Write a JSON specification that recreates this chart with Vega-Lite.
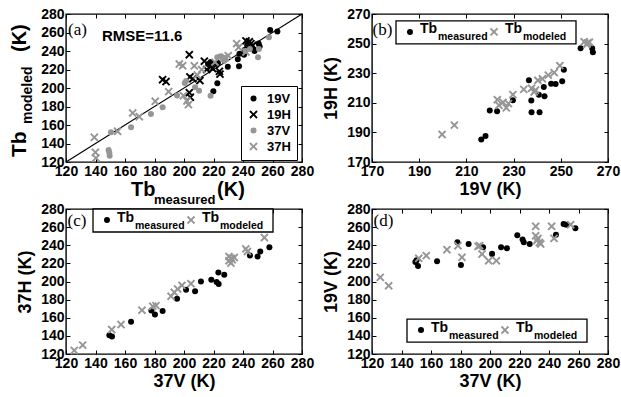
{
  "$schema": "https://vega.github.io/schema/vega-lite/v6.json",
  "background": "#ffffff",
  "padding": {"left": 8, "top": 6, "right": 4, "bottom": 4},
  "datasets": {
    "one": [{}],
    "a": [
      {"band": "19V", "measured": 216.3, "modeled": 226}, {"band": "19V", "measured": 218.1, "modeled": 228},
      {"band": "19V", "measured": 219.9, "modeled": 196.4}, {"band": "19V", "measured": 222.6, "modeled": 205.1},
      {"band": "19V", "measured": 223, "modeled": 227}, {"band": "19V", "measured": 229.7, "modeled": 223},
      {"band": "19V", "measured": 236.5, "modeled": 231}, {"band": "19V", "measured": 237.3, "modeled": 223.5},
      {"band": "19V", "measured": 237.6, "modeled": 237}, {"band": "19V", "measured": 240.7, "modeled": 236},
      {"band": "19V", "measured": 241, "modeled": 241}, {"band": "19V", "measured": 242.8, "modeled": 246},
      {"band": "19V", "measured": 243.1, "modeled": 250}, {"band": "19V", "measured": 245.9, "modeled": 243},
      {"band": "19V", "measured": 247.8, "modeled": 240}, {"band": "19V", "measured": 250.6, "modeled": 248},
      {"band": "19V", "measured": 251.3, "modeled": 245}, {"band": "19V", "measured": 258.4, "modeled": 262.7},
      {"band": "19V", "measured": 263.3, "modeled": 261},
      {"band": "19H", "measured": 185.5, "modeled": 209}, {"band": "19H", "measured": 187.8, "modeled": 207},
      {"band": "19H", "measured": 203.6, "modeled": 236}, {"band": "19H", "measured": 204, "modeled": 212},
      {"band": "19H", "measured": 206, "modeled": 210}, {"band": "19H", "measured": 203.6, "modeled": 195},
      {"band": "19H", "measured": 204.3, "modeled": 190}, {"band": "19H", "measured": 210.8, "modeled": 208},
      {"band": "19H", "measured": 213.8, "modeled": 229}, {"band": "19H", "measured": 215.4, "modeled": 220},
      {"band": "19H", "measured": 218.3, "modeled": 223}, {"band": "19H", "measured": 219.4, "modeled": 221},
      {"band": "19H", "measured": 221, "modeled": 226}, {"band": "19H", "measured": 224, "modeled": 218},
      {"band": "19H", "measured": 224.4, "modeled": 215}, {"band": "19H", "measured": 242, "modeled": 251},
      {"band": "19H", "measured": 244.3, "modeled": 250}, {"band": "19H", "measured": 245.4, "modeled": 248},
      {"band": "19H", "measured": 246.6, "modeled": 246},
      {"band": "37V", "measured": 148.9, "modeled": 132.9}, {"band": "37V", "measured": 149.4, "modeled": 130},
      {"band": "37V", "measured": 149.6, "modeled": 126.7}, {"band": "37V", "measured": 150.5, "modeled": 152.1},
      {"band": "37V", "measured": 164.1, "modeled": 157.5}, {"band": "37V", "measured": 177.6, "modeled": 171.9},
      {"band": "37V", "measured": 185.5, "modeled": 179.1}, {"band": "37V", "measured": 195.3, "modeled": 192},
      {"band": "37V", "measured": 200.5, "modeled": 205.5}, {"band": "37V", "measured": 201.4, "modeled": 207.5},
      {"band": "37V", "measured": 207.5, "modeled": 200.9}, {"band": "37V", "measured": 210.2, "modeled": 197.1},
      {"band": "37V", "measured": 218, "modeled": 191.7}, {"band": "37V", "measured": 222.6, "modeled": 233.2},
      {"band": "37V", "measured": 224.8, "modeled": 234.3}, {"band": "37V", "measured": 226.5, "modeled": 231},
      {"band": "37V", "measured": 228, "modeled": 232.5}, {"band": "37V", "measured": 227.3, "modeled": 229.5},
      {"band": "37V", "measured": 241.7, "modeled": 240}, {"band": "37V", "measured": 244.7, "modeled": 242.2},
      {"band": "37V", "measured": 250.2, "modeled": 233.2}, {"band": "37V", "measured": 250.8, "modeled": 242.2},
      {"band": "37V", "measured": 257.6, "modeled": 254.8},
      {"band": "37H", "measured": 139.2, "modeled": 146.7}, {"band": "37H", "measured": 139.9, "modeled": 130.5},
      {"band": "37H", "measured": 140.3, "modeled": 124.3}, {"band": "37H", "measured": 155, "modeled": 153.2},
      {"band": "37H", "measured": 165.2, "modeled": 173}, {"band": "37H", "measured": 169.7, "modeled": 169},
      {"band": "37H", "measured": 180.5, "modeled": 185.6}, {"band": "37H", "measured": 189.6, "modeled": 196.1},
      {"band": "37H", "measured": 196.8, "modeled": 225.9}, {"band": "37H", "measured": 199.1, "modeled": 224.1},
      {"band": "37H", "measured": 199.6, "modeled": 191.7}, {"band": "37H", "measured": 202, "modeled": 186},
      {"band": "37H", "measured": 203, "modeled": 182}, {"band": "37H", "measured": 207, "modeled": 224},
      {"band": "37H", "measured": 209, "modeled": 214}, {"band": "37H", "measured": 212, "modeled": 220},
      {"band": "37H", "measured": 221, "modeled": 228}, {"band": "37H", "measured": 228, "modeled": 233},
      {"band": "37H", "measured": 230, "modeled": 235}, {"band": "37H", "measured": 235.7, "modeled": 248},
      {"band": "37H", "measured": 237, "modeled": 244}, {"band": "37H", "measured": 242, "modeled": 239}
    ],
    "b": [
      {"kind": "measured", "v19": 216.3, "h19": 185.2}, {"kind": "measured", "v19": 218.1, "h19": 187.5},
      {"kind": "measured", "v19": 219.9, "h19": 204.8}, {"kind": "measured", "v19": 223, "h19": 204.3},
      {"kind": "measured", "v19": 229.7, "h19": 211.7}, {"kind": "measured", "v19": 236.5, "h19": 225.2},
      {"kind": "measured", "v19": 237.5, "h19": 211.5}, {"kind": "measured", "v19": 237.6, "h19": 203.6},
      {"kind": "measured", "v19": 241, "h19": 203.6}, {"kind": "measured", "v19": 240.7, "h19": 215.5},
      {"kind": "measured", "v19": 242.8, "h19": 220.7}, {"kind": "measured", "v19": 243.1, "h19": 214.4},
      {"kind": "measured", "v19": 245.9, "h19": 222.9}, {"kind": "measured", "v19": 247.8, "h19": 222.7},
      {"kind": "measured", "v19": 250.6, "h19": 224.5}, {"kind": "measured", "v19": 251.3, "h19": 232.3},
      {"kind": "measured", "v19": 258.4, "h19": 246.9}, {"kind": "measured", "v19": 263.3, "h19": 246.9},
      {"kind": "measured", "v19": 263.6, "h19": 244.2},
      {"kind": "modeled", "v19": 199.7, "h19": 188.6}, {"kind": "modeled", "v19": 204.9, "h19": 194.9},
      {"kind": "modeled", "v19": 223.1, "h19": 212.1}, {"kind": "modeled", "v19": 223.8, "h19": 208.3},
      {"kind": "modeled", "v19": 225.5, "h19": 210.3}, {"kind": "modeled", "v19": 226.9, "h19": 206.6},
      {"kind": "modeled", "v19": 227.8, "h19": 209.5}, {"kind": "modeled", "v19": 229.7, "h19": 215.5},
      {"kind": "modeled", "v19": 234.3, "h19": 219.1}, {"kind": "modeled", "v19": 237.6, "h19": 219.8},
      {"kind": "modeled", "v19": 238.7, "h19": 217.3}, {"kind": "modeled", "v19": 239.3, "h19": 218.6},
      {"kind": "modeled", "v19": 240.3, "h19": 225.2}, {"kind": "modeled", "v19": 242.2, "h19": 226.2},
      {"kind": "modeled", "v19": 244.7, "h19": 228.7}, {"kind": "modeled", "v19": 247.2, "h19": 230.4},
      {"kind": "modeled", "v19": 249.6, "h19": 235.1}, {"kind": "modeled", "v19": 259.9, "h19": 251.2},
      {"kind": "modeled", "v19": 261.3, "h19": 250.4}, {"kind": "modeled", "v19": 262.1, "h19": 250.9},
      {"kind": "modeled", "v19": 261, "h19": 249.4}
    ],
    "c": [
      {"kind": "measured", "v37": 149.4, "h37": 140.8}, {"kind": "measured", "v37": 151.2, "h37": 139.3},
      {"kind": "measured", "v37": 164.1, "h37": 155.5}, {"kind": "measured", "v37": 177.9, "h37": 168},
      {"kind": "measured", "v37": 180.3, "h37": 163.5}, {"kind": "measured", "v37": 185.5, "h37": 167.5},
      {"kind": "measured", "v37": 195.3, "h37": 181.1}, {"kind": "measured", "v37": 201.4, "h37": 191},
      {"kind": "measured", "v37": 207.5, "h37": 189.2}, {"kind": "measured", "v37": 211.5, "h37": 200.1},
      {"kind": "measured", "v37": 218.5, "h37": 202}, {"kind": "measured", "v37": 222.1, "h37": 199.4},
      {"kind": "measured", "v37": 223.5, "h37": 197.2}, {"kind": "measured", "v37": 223.3, "h37": 210},
      {"kind": "measured", "v37": 227.3, "h37": 207.5}, {"kind": "measured", "v37": 244.7, "h37": 228.7},
      {"kind": "measured", "v37": 249.9, "h37": 227.6}, {"kind": "measured", "v37": 251.7, "h37": 233.1},
      {"kind": "measured", "v37": 257.9, "h37": 237.9},
      {"kind": "modeled", "v37": 125.6, "h37": 124}, {"kind": "modeled", "v37": 131.3, "h37": 129.8},
      {"kind": "modeled", "v37": 151, "h37": 147}, {"kind": "modeled", "v37": 157.3, "h37": 152.5},
      {"kind": "modeled", "v37": 171.5, "h37": 168.3}, {"kind": "modeled", "v37": 178.8, "h37": 172.7},
      {"kind": "modeled", "v37": 181, "h37": 173.4}, {"kind": "modeled", "v37": 191.2, "h37": 183.7},
      {"kind": "modeled", "v37": 193.4, "h37": 188.1}, {"kind": "modeled", "v37": 195.7, "h37": 191.7},
      {"kind": "modeled", "v37": 198.6, "h37": 195.7}, {"kind": "modeled", "v37": 204.7, "h37": 197.6},
      {"kind": "modeled", "v37": 230.5, "h37": 227.6}, {"kind": "modeled", "v37": 232, "h37": 225.8},
      {"kind": "modeled", "v37": 232.7, "h37": 224}, {"kind": "modeled", "v37": 230.5, "h37": 222.9},
      {"kind": "modeled", "v37": 234.1, "h37": 226.5}, {"kind": "modeled", "v37": 231.8, "h37": 220.3},
      {"kind": "modeled", "v37": 241.9, "h37": 236}, {"kind": "modeled", "v37": 243, "h37": 233.1},
      {"kind": "modeled", "v37": 254.5, "h37": 248.5}
    ],
    "d": [
      {"kind": "measured", "v37": 149.4, "v19": 221.5}, {"kind": "measured", "v37": 150.2, "v19": 223.5},
      {"kind": "measured", "v37": 151.2, "v19": 217.2}, {"kind": "measured", "v37": 164.1, "v19": 222.3},
      {"kind": "measured", "v37": 177.9, "v19": 243.3}, {"kind": "measured", "v37": 180.3, "v19": 218.3},
      {"kind": "measured", "v37": 185.5, "v19": 241.5}, {"kind": "measured", "v37": 195.3, "v19": 237.8},
      {"kind": "measured", "v37": 201.4, "v19": 230.5}, {"kind": "measured", "v37": 207.5, "v19": 237.8},
      {"kind": "measured", "v37": 211.5, "v19": 236.7}, {"kind": "measured", "v37": 218.5, "v19": 251},
      {"kind": "measured", "v37": 222.1, "v19": 246.3}, {"kind": "measured", "v37": 222.9, "v19": 243.3},
      {"kind": "measured", "v37": 226.9, "v19": 241.5}, {"kind": "measured", "v37": 244.7, "v19": 251.6},
      {"kind": "measured", "v37": 249.9, "v19": 263.4}, {"kind": "measured", "v37": 251.7, "v19": 262.7},
      {"kind": "measured", "v37": 257.9, "v19": 258.7},
      {"kind": "modeled", "v37": 125.6, "v19": 204.6}, {"kind": "modeled", "v37": 131.3, "v19": 195.3},
      {"kind": "modeled", "v37": 151.7, "v19": 225.6}, {"kind": "modeled", "v37": 156.8, "v19": 228.5},
      {"kind": "modeled", "v37": 170.8, "v19": 235.1}, {"kind": "modeled", "v37": 178.3, "v19": 239.5},
      {"kind": "modeled", "v37": 181, "v19": 226.7}, {"kind": "modeled", "v37": 191.9, "v19": 238.8},
      {"kind": "modeled", "v37": 193, "v19": 239.5}, {"kind": "modeled", "v37": 194.6, "v19": 230.3},
      {"kind": "modeled", "v37": 199.1, "v19": 222.9}, {"kind": "modeled", "v37": 204.3, "v19": 222.9},
      {"kind": "modeled", "v37": 231, "v19": 260.9}, {"kind": "modeled", "v37": 231, "v19": 250.5},
      {"kind": "modeled", "v37": 231.7, "v19": 245}, {"kind": "modeled", "v37": 233.5, "v19": 243},
      {"kind": "modeled", "v37": 234.4, "v19": 241.4}, {"kind": "modeled", "v37": 232.5, "v19": 247.5},
      {"kind": "modeled", "v37": 241.8, "v19": 260.9}, {"kind": "modeled", "v37": 243.4, "v19": 247.6},
      {"kind": "modeled", "v37": 254.7, "v19": 262.7}
    ]
  },
  "columns": 2,
  "spacing": {"row": 47, "column": 70},
  "bounds": "flush",
  "resolve": {"scale": {"color": "independent", "shape": "independent"}, "legend": {"color": "independent", "shape": "independent"}},
  "concat": [
    {
      "width": 236, "height": 148,
      "resolve": {"axis": {"x": "independent", "y": "independent"}},
      "layer": [
        {
          "data": {"name": "one"},
          "mark": {"type": "rule", "color": "#000", "strokeWidth": 1.2},
          "encoding": {
            "x": {"datum": 120, "type": "quantitative", "axis": {"orient": "top", "labels": false, "title": null, "values": [120, 140, 160, 180, 200, 220, 240, 260, 280]}},
            "y": {"datum": 120, "type": "quantitative", "axis": {"orient": "right", "labels": false, "title": null, "values": [120, 140, 160, 180, 200, 220, 240, 260, 280]}},
            "x2": {"datum": 280},
            "y2": {"datum": 280}
          }
        },
        {
          "data": {"name": "a"},
          "mark": {"type": "point", "filled": true, "opacity": 1, "size": 36, "strokeWidth": 0},
          "encoding": {
            "x": {"field": "measured", "type": "quantitative", "scale": {"domain": [120, 280], "nice": false, "zero": false}, "axis": {"title": null, "values": [120, 140, 160, 180, 200, 220, 240, 260, 280]}},
            "y": {"field": "modeled", "type": "quantitative", "scale": {"domain": [120, 280], "nice": false, "zero": false}, "axis": {"title": null, "values": [120, 140, 160, 180, 200, 220, 240, 260, 280]}},
            "color": {"field": "band", "type": "nominal", "scale": {"domain": ["19V", "19H", "37V", "37H"], "range": ["#000000", "#000000", "#969696", "#969696"]}, "legend": {"title": null, "orient": "none", "legendX": 175, "legendY": 72}},
            "shape": {"field": "band", "type": "nominal", "scale": {"domain": ["19V", "19H", "37V", "37H"], "range": ["circle", "M0,-0.45L0.95,-1.4L1.4,-0.95L0.45,0L1.4,0.95L0.95,1.4L0,0.45L-0.95,1.4L-1.4,0.95L-0.45,0L-1.4,-0.95L-0.95,-1.4Z", "circle", "M0,-0.45L0.95,-1.4L1.4,-0.95L0.45,0L1.4,0.95L0.95,1.4L0,0.45L-0.95,1.4L-1.4,0.95L-0.45,0L-1.4,-0.95L-0.95,-1.4Z"]}, "legend": {"title": null, "orient": "none", "legendX": 175, "legendY": 72}}
          }
        },
        {
          "data": {"name": "one"},
          "mark": {"type": "text", "text": "RMSE=11.6", "align": "left", "baseline": "alphabetic", "fontSize": 15},
          "encoding": {"x": {"datum": 144.4, "type": "quantitative", "axis": null}, "y": {"datum": 250.3, "type": "quantitative", "axis": null}}
        },
        {
          "data": {"name": "one"},
          "mark": {"type": "text", "text": "(a)", "align": "left", "baseline": "alphabetic", "font": "Liberation Serif", "fontWeight": "normal", "fontSize": 17},
          "encoding": {"x": {"datum": 121.4, "type": "quantitative", "axis": null}, "y": {"datum": 257.3, "type": "quantitative", "axis": null}}
        },
        {
          "data": {"name": "one"},
          "mark": {"type": "text", "text": "Tb", "align": "left", "baseline": "alphabetic", "fontSize": 20},
          "encoding": {"x": {"datum": 164.1, "type": "quantitative", "axis": null}, "y": {"datum": 83.2, "type": "quantitative", "axis": null}}
        },
        {
          "data": {"name": "one"},
          "mark": {"type": "text", "text": "measured", "align": "left", "baseline": "alphabetic", "fontSize": 13},
          "encoding": {"x": {"datum": 179.7, "type": "quantitative", "axis": null}, "y": {"datum": 74.6, "type": "quantitative", "axis": null}}
        },
        {
          "data": {"name": "one"},
          "mark": {"type": "text", "text": "(K)", "align": "left", "baseline": "alphabetic", "fontSize": 20},
          "encoding": {"x": {"datum": 222.4, "type": "quantitative", "axis": null}, "y": {"datum": 83.2, "type": "quantitative", "axis": null}}
        },
        {
          "data": {"name": "one"},
          "mark": {"type": "text", "text": "Tb", "align": "left", "baseline": "alphabetic", "fontSize": 21, "angle": 270},
          "encoding": {"x": {"datum": 92.9, "type": "quantitative", "axis": null}, "y": {"datum": 125.4, "type": "quantitative", "axis": null}}
        },
        {
          "data": {"name": "one"},
          "mark": {"type": "text", "text": "modeled", "align": "left", "baseline": "alphabetic", "fontSize": 14, "angle": 270},
          "encoding": {"x": {"datum": 97.0, "type": "quantitative", "axis": null}, "y": {"datum": 161.1, "type": "quantitative", "axis": null}}
        },
        {
          "data": {"name": "one"},
          "mark": {"type": "text", "text": "(K)", "align": "left", "baseline": "alphabetic", "fontSize": 20, "angle": 270},
          "encoding": {"x": {"datum": 92.9, "type": "quantitative", "axis": null}, "y": {"datum": 238.9, "type": "quantitative", "axis": null}}
        }
      ]
    },
    {
      "width": 236, "height": 148,
      "resolve": {"axis": {"x": "independent", "y": "independent"}},
      "layer": [
        {
          "data": {"name": "b"},
          "mark": {"type": "point", "filled": true, "opacity": 1, "size": 36, "strokeWidth": 0},
          "encoding": {
            "x": {"field": "v19", "type": "quantitative", "scale": {"domain": [170, 270], "nice": false, "zero": false}, "axis": {"title": "19V (K)", "values": [170, 190, 210, 230, 250, 270]}},
            "y": {"field": "h19", "type": "quantitative", "scale": {"domain": [170, 270], "nice": false, "zero": false}, "axis": {"title": "19H (K)", "values": [170, 190, 210, 230, 250, 270]}},
            "color": {"field": "kind", "type": "nominal", "scale": {"domain": ["measured", "modeled"], "range": ["#000000", "#969696"]}, "legend": null},
            "shape": {"field": "kind", "type": "nominal", "scale": {"domain": ["measured", "modeled"], "range": ["circle", "M0,-0.45L0.95,-1.4L1.4,-0.95L0.45,0L1.4,0.95L0.95,1.4L0,0.45L-0.95,1.4L-1.4,0.95L-0.45,0L-1.4,-0.95L-0.95,-1.4Z"]}, "legend": null}
          }
        },
        {
          "data": {"name": "one"},
          "mark": {"type": "rect", "fill": "#ffffff", "stroke": "#000000", "strokeWidth": 1.3},
          "encoding": {
            "x": {"datum": 180.17, "type": "quantitative", "axis": {"orient": "top", "labels": false, "title": null, "values": [170, 190, 210, 230, 250, 270]}},
            "x2": {"datum": 256.44},
            "y": {"datum": 265.3, "type": "quantitative", "axis": {"orient": "right", "labels": false, "title": null, "values": [170, 190, 210, 230, 250, 270]}},
            "y2": {"datum": 249.87}
          }
        },
        {
          "data": {"name": "one"},
          "mark": {"type": "point", "shape": "circle", "filled": true, "color": "#000000", "opacity": 1, "size": 36, "strokeWidth": 0},
          "encoding": {"x": {"datum": 186.1, "type": "quantitative", "axis": null}, "y": {"datum": 257.92, "type": "quantitative", "axis": null}}
        },
        {
          "data": {"name": "one"},
          "mark": {"type": "point", "shape": "M0,-0.45L0.95,-1.4L1.4,-0.95L0.45,0L1.4,0.95L0.95,1.4L0,0.45L-0.95,1.4L-1.4,0.95L-0.45,0L-1.4,-0.95L-0.95,-1.4Z", "filled": true, "color": "#969696", "opacity": 1, "size": 36, "strokeWidth": 0},
          "encoding": {"x": {"datum": 221.69, "type": "quantitative", "axis": null}, "y": {"datum": 257.92, "type": "quantitative", "axis": null}}
        },
        {
          "data": {"name": "one"},
          "mark": {"type": "text", "text": "Tb", "align": "left", "baseline": "alphabetic", "fontSize": 14},
          "encoding": {"x": {"datum": 190.34, "type": "quantitative", "axis": null}, "y": {"datum": 256.91, "type": "quantitative", "axis": null}}
        },
        {
          "data": {"name": "one"},
          "mark": {"type": "text", "text": "measured", "align": "left", "baseline": "alphabetic", "fontSize": 10.5},
          "encoding": {"x": {"datum": 197.97, "type": "quantitative", "axis": null}, "y": {"datum": 252.21, "type": "quantitative", "axis": null}}
        },
        {
          "data": {"name": "one"},
          "mark": {"type": "text", "text": "Tb", "align": "left", "baseline": "alphabetic", "fontSize": 14},
          "encoding": {"x": {"datum": 226.36, "type": "quantitative", "axis": null}, "y": {"datum": 256.91, "type": "quantitative", "axis": null}}
        },
        {
          "data": {"name": "one"},
          "mark": {"type": "text", "text": "modeled", "align": "left", "baseline": "alphabetic", "fontSize": 10.5},
          "encoding": {"x": {"datum": 233.98, "type": "quantitative", "axis": null}, "y": {"datum": 252.21, "type": "quantitative", "axis": null}}
        },
        {
          "data": {"name": "one"},
          "mark": {"type": "text", "text": "(b)", "align": "left", "baseline": "alphabetic", "font": "Liberation Serif", "fontWeight": "normal", "fontSize": 17},
          "encoding": {"x": {"datum": 170.2, "type": "quantitative", "axis": null}, "y": {"datum": 255.9, "type": "quantitative", "axis": null}}
        }
      ]
    },
    {
      "width": 236, "height": 145,
      "resolve": {"axis": {"x": "independent", "y": "independent"}},
      "layer": [
        {
          "data": {"name": "c"},
          "mark": {"type": "point", "filled": true, "opacity": 1, "size": 36, "strokeWidth": 0},
          "encoding": {
            "x": {"field": "v37", "type": "quantitative", "scale": {"domain": [120, 280], "nice": false, "zero": false}, "axis": {"title": "37V (K)", "values": [120, 140, 160, 180, 200, 220, 240, 260, 280]}},
            "y": {"field": "h37", "type": "quantitative", "scale": {"domain": [120, 280], "nice": false, "zero": false}, "axis": {"title": "37H (K)", "values": [120, 140, 160, 180, 200, 220, 240, 260, 280]}},
            "color": {"field": "kind", "type": "nominal", "scale": {"domain": ["measured", "modeled"], "range": ["#000000", "#969696"]}, "legend": null},
            "shape": {"field": "kind", "type": "nominal", "scale": {"domain": ["measured", "modeled"], "range": ["circle", "M0,-0.45L0.95,-1.4L1.4,-0.95L0.45,0L1.4,0.95L0.95,1.4L0,0.45L-0.95,1.4L-1.4,0.95L-0.45,0L-1.4,-0.95L-0.95,-1.4Z"]}, "legend": null}
          }
        },
        {
          "data": {"name": "one"},
          "mark": {"type": "rect", "fill": "#ffffff", "stroke": "#000000", "strokeWidth": 1.3},
          "encoding": {
            "x": {"datum": 138.31, "type": "quantitative", "axis": {"orient": "top", "labels": false, "title": null, "values": [120, 140, 160, 180, 200, 220, 240, 260, 280]}},
            "x2": {"datum": 260.34},
            "y": {"datum": 280, "type": "quantitative", "axis": {"orient": "right", "labels": false, "title": null, "values": [120, 140, 160, 180, 200, 220, 240, 260, 280]}},
            "y2": {"datum": 254.61}
          }
        },
        {
          "data": {"name": "one"},
          "mark": {"type": "point", "shape": "circle", "filled": true, "color": "#000000", "opacity": 1, "size": 36, "strokeWidth": 0},
          "encoding": {"x": {"datum": 147.8, "type": "quantitative", "axis": null}, "y": {"datum": 267.86, "type": "quantitative", "axis": null}}
        },
        {
          "data": {"name": "one"},
          "mark": {"type": "point", "shape": "M0,-0.45L0.95,-1.4L1.4,-0.95L0.45,0L1.4,0.95L0.95,1.4L0,0.45L-0.95,1.4L-1.4,0.95L-0.45,0L-1.4,-0.95L-0.95,-1.4Z", "filled": true, "color": "#969696", "opacity": 1, "size": 36, "strokeWidth": 0},
          "encoding": {"x": {"datum": 204.75, "type": "quantitative", "axis": null}, "y": {"datum": 267.86, "type": "quantitative", "axis": null}}
        },
        {
          "data": {"name": "one"},
          "mark": {"type": "text", "text": "Tb", "align": "left", "baseline": "alphabetic", "fontSize": 14},
          "encoding": {"x": {"datum": 154.58, "type": "quantitative", "axis": null}, "y": {"datum": 266.2, "type": "quantitative", "axis": null}}
        },
        {
          "data": {"name": "one"},
          "mark": {"type": "text", "text": "measured", "align": "left", "baseline": "alphabetic", "fontSize": 10.5},
          "encoding": {"x": {"datum": 166.78, "type": "quantitative", "axis": null}, "y": {"datum": 258.48, "type": "quantitative", "axis": null}}
        },
        {
          "data": {"name": "one"},
          "mark": {"type": "text", "text": "Tb", "align": "left", "baseline": "alphabetic", "fontSize": 14},
          "encoding": {"x": {"datum": 212.2, "type": "quantitative", "axis": null}, "y": {"datum": 266.2, "type": "quantitative", "axis": null}}
        },
        {
          "data": {"name": "one"},
          "mark": {"type": "text", "text": "modeled", "align": "left", "baseline": "alphabetic", "fontSize": 10.5},
          "encoding": {"x": {"datum": 224.41, "type": "quantitative", "axis": null}, "y": {"datum": 258.48, "type": "quantitative", "axis": null}}
        },
        {
          "data": {"name": "one"},
          "mark": {"type": "text", "text": "(c)", "align": "left", "baseline": "alphabetic", "font": "Liberation Serif", "fontWeight": "normal", "fontSize": 17},
          "encoding": {"x": {"datum": 121.0, "type": "quantitative", "axis": null}, "y": {"datum": 261.24, "type": "quantitative", "axis": null}}
        }
      ]
    },
    {
      "width": 236, "height": 145,
      "resolve": {"axis": {"x": "independent", "y": "independent"}},
      "layer": [
        {
          "data": {"name": "d"},
          "mark": {"type": "point", "filled": true, "opacity": 1, "size": 36, "strokeWidth": 0},
          "encoding": {
            "x": {"field": "v37", "type": "quantitative", "scale": {"domain": [120, 280], "nice": false, "zero": false}, "axis": {"title": "37V (K)", "values": [120, 140, 160, 180, 200, 220, 240, 260, 280]}},
            "y": {"field": "v19", "type": "quantitative", "scale": {"domain": [120, 280], "nice": false, "zero": false}, "axis": {"title": "19V (K)", "values": [120, 140, 160, 180, 200, 220, 240, 260, 280]}},
            "color": {"field": "kind", "type": "nominal", "scale": {"domain": ["measured", "modeled"], "range": ["#000000", "#969696"]}, "legend": null},
            "shape": {"field": "kind", "type": "nominal", "scale": {"domain": ["measured", "modeled"], "range": ["circle", "M0,-0.45L0.95,-1.4L1.4,-0.95L0.45,0L1.4,0.95L0.95,1.4L0,0.45L-0.95,1.4L-1.4,0.95L-0.45,0L-1.4,-0.95L-0.95,-1.4Z"]}, "legend": null}
          }
        },
        {
          "data": {"name": "one"},
          "mark": {"type": "rect", "fill": "#ffffff", "stroke": "#000000", "strokeWidth": 1.3},
          "encoding": {
            "x": {"datum": 143.73, "type": "quantitative", "axis": {"orient": "top", "labels": false, "title": null, "values": [120, 140, 160, 180, 200, 220, 240, 260, 280]}},
            "x2": {"datum": 265.76},
            "y": {"datum": 158.59, "type": "quantitative", "axis": {"orient": "right", "labels": false, "title": null, "values": [120, 140, 160, 180, 200, 220, 240, 260, 280]}},
            "y2": {"datum": 133.2}
          }
        },
        {
          "data": {"name": "one"},
          "mark": {"type": "point", "shape": "circle", "filled": true, "color": "#000000", "opacity": 1, "size": 36, "strokeWidth": 0},
          "encoding": {"x": {"datum": 153.22, "type": "quantitative", "axis": null}, "y": {"datum": 146.45, "type": "quantitative", "axis": null}}
        },
        {
          "data": {"name": "one"},
          "mark": {"type": "point", "shape": "M0,-0.45L0.95,-1.4L1.4,-0.95L0.45,0L1.4,0.95L0.95,1.4L0,0.45L-0.95,1.4L-1.4,0.95L-0.45,0L-1.4,-0.95L-0.95,-1.4Z", "filled": true, "color": "#969696", "opacity": 1, "size": 36, "strokeWidth": 0},
          "encoding": {"x": {"datum": 210.17, "type": "quantitative", "axis": null}, "y": {"datum": 146.45, "type": "quantitative", "axis": null}}
        },
        {
          "data": {"name": "one"},
          "mark": {"type": "text", "text": "Tb", "align": "left", "baseline": "alphabetic", "fontSize": 14},
          "encoding": {"x": {"datum": 160.0, "type": "quantitative", "axis": null}, "y": {"datum": 144.79, "type": "quantitative", "axis": null}}
        },
        {
          "data": {"name": "one"},
          "mark": {"type": "text", "text": "measured", "align": "left", "baseline": "alphabetic", "fontSize": 10.5},
          "encoding": {"x": {"datum": 172.2, "type": "quantitative", "axis": null}, "y": {"datum": 137.07, "type": "quantitative", "axis": null}}
        },
        {
          "data": {"name": "one"},
          "mark": {"type": "text", "text": "Tb", "align": "left", "baseline": "alphabetic", "fontSize": 14},
          "encoding": {"x": {"datum": 217.63, "type": "quantitative", "axis": null}, "y": {"datum": 144.79, "type": "quantitative", "axis": null}}
        },
        {
          "data": {"name": "one"},
          "mark": {"type": "text", "text": "modeled", "align": "left", "baseline": "alphabetic", "fontSize": 10.5},
          "encoding": {"x": {"datum": 229.83, "type": "quantitative", "axis": null}, "y": {"datum": 137.07, "type": "quantitative", "axis": null}}
        },
        {
          "data": {"name": "one"},
          "mark": {"type": "text", "text": "(d)", "align": "left", "baseline": "alphabetic", "font": "Liberation Serif", "fontWeight": "normal", "fontSize": 17},
          "encoding": {"x": {"datum": 121.0, "type": "quantitative", "axis": null}, "y": {"datum": 261.24, "type": "quantitative", "axis": null}}
        }
      ]
    }
  ],
  "config": {
    "view": {"stroke": "#000000", "strokeWidth": 1.4},
    "axis": {
      "domain": false, "grid": false,
      "tickColor": "#000000", "tickSize": -4, "tickWidth": 1,
      "labelFont": "Liberation Sans", "labelFontWeight": "bold", "labelFontSize": 14, "labelColor": "#000000",
      "labelPadding": 6, "labelFlush": false, "labelOverlap": false,
      "titleFont": "Liberation Sans", "titleFontWeight": "bold", "titleFontSize": 18, "titleColor": "#000000"
    },
    "axisX": {"titlePadding": 2},
    "axisY": {"titlePadding": 6},
    "text": {"font": "Liberation Sans", "fontWeight": "bold", "color": "#000000"},
    "legend": {
      "strokeColor": "#000000", "fillColor": "#ffffff", "padding": 6, "rowPadding": 2,
      "labelFont": "Liberation Sans", "labelFontWeight": "bold", "labelFontSize": 13, "labelColor": "#000000",
      "labelOffset": 7, "symbolSize": 36, "symbolStrokeWidth": 0, "cornerRadius": 0
    }
  }
}
